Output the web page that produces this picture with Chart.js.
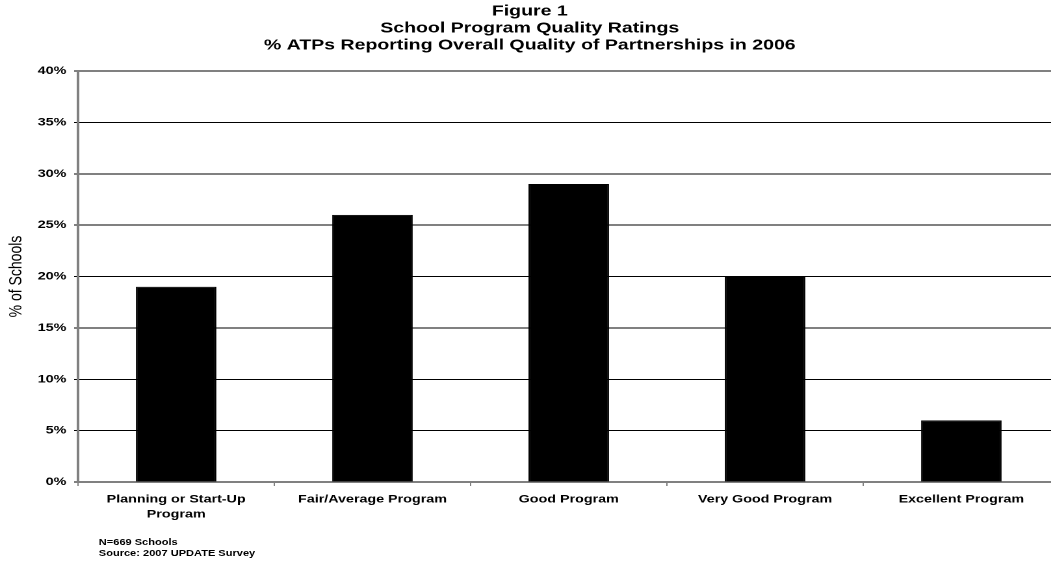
<!DOCTYPE html>
<html><head><meta charset="utf-8">
<script src="https://cdn.jsdelivr.net/npm/chart.js@4"></script>
<style>
html,body{margin:0;padding:0;background:#fff;}
#wrap{position:relative;width:1051px;height:561px;overflow:hidden;}
#inner{position:absolute;left:0;top:0;width:815px;height:561px;transform:scaleX(1.3);transform-origin:0 0;}
#note{position:absolute;left:76px;top:537px;font:bold 8.5px "Liberation Sans",Arial,sans-serif;line-height:11px;color:#000;white-space:nowrap;}
</style></head>
<body><div id="wrap"><div id="inner"><canvas id="c" width="815" height="561"></canvas>
<div id="note">N=669 Schools<br>Source: 2007 UPDATE Survey</div></div></div>
<script>
const categories = [["Planning or Start-Up","Program"],"Fair/Average Program","Good Program","Very Good Program","Excellent Program"];
const values = [19, 26, 29, 20, 6];
const titleLines = ["Figure 1","School Program Quality Ratings","% ATPs Reporting Overall Quality of Partnerships in 2006"];
const yAxisTitle = "% of Schools";

const FONT = '"Liberation Sans", Arial, sans-serif';
new Chart(document.getElementById('c'), {
  type: 'bar',
  data: { labels: categories, datasets: [{ data: values, backgroundColor: '#000', borderColor: '#000', borderWidth: 1, barPercentage: 0.41, categoryPercentage: 1 }] },
  options: {
    responsive: false, animation: false, devicePixelRatio: 2,
    layout: { padding: { left: 0, right: 0, top: 0, bottom: 0 } },
    plugins: {
      legend: { display: false }, tooltip: { enabled: false },
      title: { display: true, text: titleLines, color: '#000', font: { family: FONT, size: 15, weight: 'bold', lineHeight: '17px' }, padding: { top: 3, bottom: 17 } }
    },
    scales: {
      x: {
        grid: { display: true, drawOnChartArea: false, offset: true, color: '#808080', tickLength: 4 },
        border: { color: '#808080', width: 2 },
        ticks: { color: '#000', font: { family: FONT, size: 11, weight: 'bold', lineHeight: '15px' }, maxRotation: 0, padding: 6 },
        afterFit: s => { s.height = 79; }
      },
      y: {
        min: 0, max: 40,
        ticks: { stepSize: 5, color: '#000', callback: v => v + '%', font: { family: FONT, size: 11, weight: 'bold' }, padding: 6 },
        grid: { color: c => (c.tick && c.tick.value === 40) ? '#808080' : '#000', lineWidth: c => (c.tick && c.tick.value === 40) ? 2 : 1, tickLength: 3 },
        border: { color: '#808080', width: 2 },
        title: { display: true, text: yAxisTitle, color: '#000', font: { family: FONT, size: 14 }, padding: { top: 4, bottom: 0 } },
        afterFit: s => { s.width = 60; }
      }
    }
  }
});
</script></body></html>
